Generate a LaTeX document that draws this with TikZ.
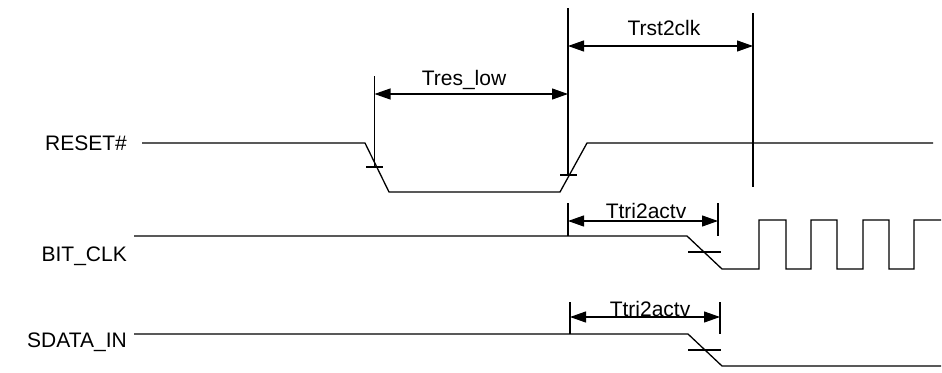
\documentclass[tikz,border=0pt]{standalone}
\usepackage{fontspec}
\setmainfont{Liberation Sans}
\usetikzlibrary{arrows.meta}

\begin{document}
\begin{tikzpicture}[x=1pt,y=-1pt,
	sig/.style={line width=1.3pt,line join=miter},
	thin/.style={line width=1.1pt},
	dim/.style={line width=1.1pt,{Triangle[length=16pt,width=11pt]}-{Triangle[length=16pt,width=11pt]}},
	lbl/.style={font=\fontsize{21}{24}\selectfont,inner sep=0pt}]

	\useasboundingbox (0,0) rectangle (942,372);

	% signal names
	\node[lbl,anchor=east] (rst) at (127,143) {RESET\#};
	\node[lbl,anchor=east] (clk) at (127,256) {BIT\_CLK};
	\node[lbl,anchor=east] (sdi) at (127,342) {SDATA\_IN};

	% RESET#
	\draw[sig] (142,143) -- (365,143) -- (389,192) -- (560,192) -- (587,143) -- (933,143);
	\draw[thin] (366,167) -- (383,167);
	\draw[thin] (560,175) -- (577,175);
	\coordinate (a) at (374.5,94);
	\coordinate (b) at (568,94);
	\coordinate (c) at (568,46);
	\coordinate (d) at (753,46);
	\draw[thin] (374.5,76) -- (374.5,167);
	\draw[thin] (568,8) -- (568,175);
	\draw[thin] (753,13) -- (753,187);
	\draw[dim] (a) -- (b);
	\draw[dim] (c) -- (d);
	\node[lbl,anchor=base] (tlow) at (464,85) {Tres\_low};
	\node[lbl,anchor=base] (trst) at (664,35) {Trst2clk};

	% BIT_CLK
	\draw[sig] (134,236) -- (687,236) -- (722,269) -- (759,269) -- (759,220) -- (786,220)
		-- (786,269) -- (811,269) -- (811,220) -- (837,220) -- (837,269) -- (863,269)
		-- (863,220) -- (889,220) -- (889,269) -- (914,269) -- (914,220) -- (941,220);
	\draw[thin] (688,252) -- (721,252);
	\coordinate (e) at (568,221);
	\coordinate (f) at (718,221);
	\draw[thin] (568,203) -- (568,236);
	\draw[thin] (718,203) -- (718,236);
	\draw[dim] (e) -- (f);
	\node[lbl,anchor=base] (tclk) at (646,218) {Ttri2actv};

	% SDATA_IN
	\draw[sig] (134,334) -- (688,334) -- (722,366) -- (941,366);
	\draw[thin] (688,350) -- (721,350);
	\coordinate (g) at (570,317);
	\coordinate (h) at (720,317);
	\draw[thin] (570,302) -- (570,334);
	\draw[thin] (720,302) -- (720,334);
	\draw[dim] (g) -- (h);
	\node[lbl,anchor=base] (tsdi) at (650,316) {Ttri2actv};
\end{tikzpicture}
\end{document}
